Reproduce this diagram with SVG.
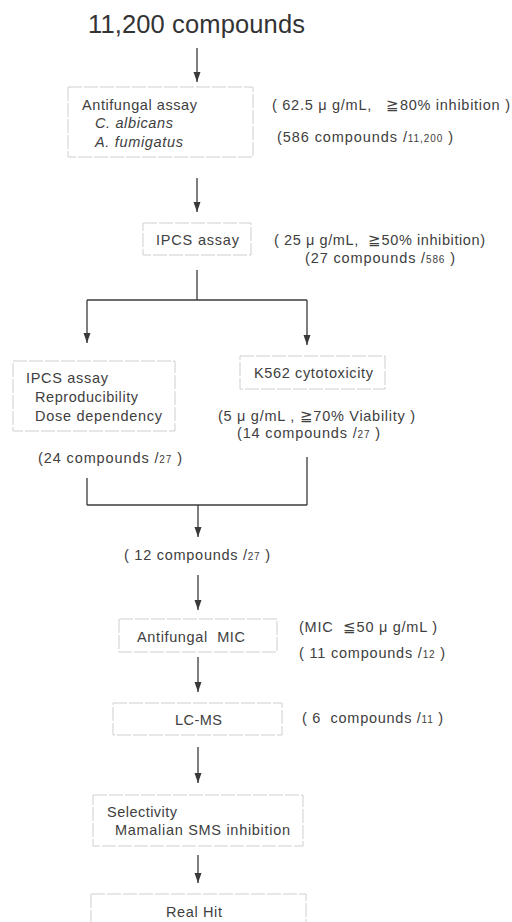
<svg xmlns="http://www.w3.org/2000/svg" width="512" height="922" viewBox="0 0 512 922">
<defs>
<style>
text{font-family:"Liberation Sans",Arial,sans-serif;fill:#404040;font-size:14.5px}
.big{font-size:25.5px;fill:#333}
.it{font-style:italic}
.sm{font-size:10px}
.box{fill:#fff;stroke:#cfcfcf;stroke-width:1;stroke-dasharray:14 2}
.ln{stroke:#3a3a3a;stroke-width:1.3;fill:none}
.ar{stroke:#3a3a3a;stroke-width:1.3;fill:none;marker-end:url(#ah)}
</style>
<marker id="ah" markerUnits="userSpaceOnUse" markerWidth="10" markerHeight="8" refX="10" refY="4" orient="auto">
<path d="M0,0.5 L10,4 L0,7.5 z" fill="#3a3a3a"/>
</marker>
</defs>
<rect width="512" height="922" fill="#fff"/>

<g id="connectors">
<line class="ar" x1="197" y1="48" x2="197" y2="82"/>
<line class="ar" x1="197" y1="178" x2="197" y2="212"/>
<line class="ln" x1="197" y1="270" x2="197" y2="300"/>
<line class="ln" x1="87" y1="300" x2="307" y2="300"/>
<line class="ar" x1="87" y1="300" x2="87" y2="343"/>
<line class="ar" x1="307" y1="300" x2="307" y2="345"/>
<line class="ln" x1="87" y1="478" x2="87" y2="505"/>
<line class="ln" x1="307" y1="457" x2="307" y2="505"/>
<line class="ln" x1="87" y1="505" x2="307" y2="505"/>
<line class="ar" x1="198" y1="505" x2="198" y2="537"/>
<line class="ar" x1="198" y1="575" x2="198" y2="610"/>
<line class="ar" x1="198" y1="657" x2="198" y2="692"/>
<line class="ar" x1="198" y1="747" x2="198" y2="783"/>
<line class="ar" x1="198" y1="855" x2="198" y2="883"/>
</g>

<g id="start">
<text class="big" x="88" y="33" textLength="217" lengthAdjust="spacing">11,200 compounds</text>
</g>

<g id="antifungal-assay">
<rect class="box" x="68" y="87" width="185" height="70"/>
<text x="82" y="110" textLength="115" lengthAdjust="spacing">Antifungal assay</text>
<text class="it" x="95" y="128" textLength="78" lengthAdjust="spacing">C. albicans</text>
<text class="it" x="95" y="147" textLength="88" lengthAdjust="spacing">A. fumigatus</text>
<text x="272" y="110" textLength="238" lengthAdjust="spacing" xml:space="preserve">( 62.5 μ g/mL,   ≧80% inhibition )</text>
<text x="277" y="142" textLength="176" lengthAdjust="spacing">(586 compounds /<tspan class="sm">11,200</tspan> )</text>
</g>

<g id="ipcs-assay">
<rect class="box" x="143" y="223" width="108" height="32"/>
<text x="156" y="245" textLength="83" lengthAdjust="spacing">IPCS assay</text>
<text x="274" y="245" textLength="211" lengthAdjust="spacing" xml:space="preserve">( 25 μ g/mL,  ≧50% inhibition)</text>
<text x="305" y="263" textLength="150" lengthAdjust="spacing">(27 compounds /<tspan class="sm">586</tspan> )</text>
</g>

<g id="ipcs-repro">
<rect class="box" x="13" y="361" width="162" height="70"/>
<text x="26" y="383" textLength="82" lengthAdjust="spacing">IPCS assay</text>
<text x="35" y="402" textLength="103" lengthAdjust="spacing">Reproducibility</text>
<text x="35" y="421" textLength="127" lengthAdjust="spacing">Dose dependency</text>
<text x="38" y="463" textLength="144" lengthAdjust="spacing">(24 compounds /<tspan class="sm">27</tspan> )</text>
</g>

<g id="k562">
<rect class="box" x="240" y="356" width="145" height="33"/>
<text x="254" y="378" textLength="119" lengthAdjust="spacing">K562 cytotoxicity</text>
<text x="218" y="421" textLength="197" lengthAdjust="spacing">(5 μ g/mL , ≧70% Viability )</text>
<text x="237" y="438" textLength="143" lengthAdjust="spacing">(14 compounds /<tspan class="sm">27</tspan> )</text>
</g>

<g id="merge">
<text x="124" y="560" textLength="146" lengthAdjust="spacing">( 12 compounds /<tspan class="sm">27</tspan> )</text>
</g>

<g id="antifungal-mic">
<rect class="box" x="119" y="619" width="158" height="33"/>
<text x="137" y="642" textLength="108" lengthAdjust="spacing" xml:space="preserve">Antifungal  MIC</text>
<text x="299" y="632" textLength="138" lengthAdjust="spacing" xml:space="preserve">(MIC  ≦50 μ g/mL )</text>
<text x="299" y="658" textLength="146" lengthAdjust="spacing">( 11 compounds /<tspan class="sm">12</tspan> )</text>
</g>

<g id="lc-ms">
<rect class="box" x="113" y="703" width="169" height="32"/>
<text x="175" y="725" textLength="47" lengthAdjust="spacing">LC-MS</text>
<text x="302" y="723" textLength="141" lengthAdjust="spacing" xml:space="preserve">( 6  compounds /<tspan class="sm">11</tspan> )</text>
</g>

<g id="selectivity">
<rect class="box" x="93" y="795" width="210" height="51"/>
<text x="107" y="817" textLength="70" lengthAdjust="spacing">Selectivity</text>
<text x="115" y="835" textLength="175" lengthAdjust="spacing">Mamalian SMS inhibition</text>
</g>

<g id="real-hit">
<rect class="box" x="91" y="894" width="215" height="40"/>
<text x="166" y="917" textLength="56" lengthAdjust="spacing">Real Hit</text>
</g>
</svg>
